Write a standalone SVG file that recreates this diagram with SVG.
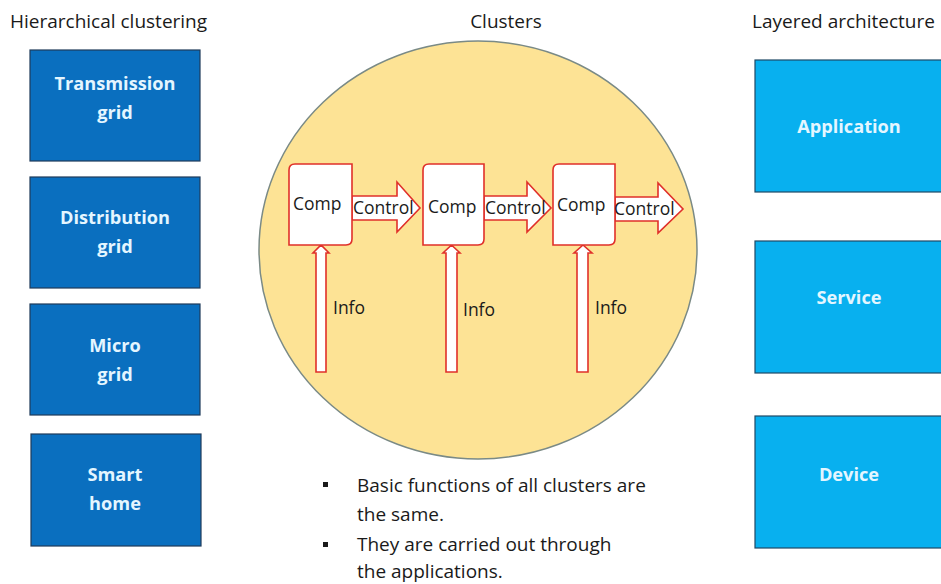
<svg xmlns="http://www.w3.org/2000/svg" width="941" height="584" viewBox="0 0 941 584">
<style>
.title{font-family:"Open Sans","Liberation Sans",sans-serif;font-size:19px;fill:#1a1a1a}
.hbox{fill:#0a6fbf;stroke:#1f3b5a;stroke-width:1.2}
.lbox{fill:#08b0ef;stroke:#1f4a66;stroke-width:1.2}
.btxt{font-family:"Open Sans","Liberation Sans",sans-serif;font-size:18.2px;font-weight:bold;fill:#e4f6ff;text-anchor:middle}
.comp{fill:#ffffff;stroke:#e0302a;stroke-width:1.6}
.arr{fill:#ffffff;stroke:#e0302a;stroke-width:1.6;stroke-linejoin:miter}
.ctxt{font-family:"Open Sans","Liberation Sans",sans-serif;font-size:17.5px;fill:#1a1a1a}
.body{font-family:"Open Sans","Liberation Sans",sans-serif;font-size:19px;fill:#1a1a1a}
</style>
<rect width="941" height="584" fill="#ffffff"/>
<text class="title" x="10" y="28">Hierarchical clustering</text>
<text class="title" x="506" y="28" text-anchor="middle">Clusters</text>
<text class="title" x="752" y="28">Layered architecture</text>

<g id="transmission"><rect class="hbox" x="30" y="50" width="170" height="111"/><text class="btxt" x="115" y="90">Transmission</text><text class="btxt" x="115" y="119">grid</text></g>
<g id="distribution"><rect class="hbox" x="30" y="177" width="170" height="111"/><text class="btxt" x="115" y="224">Distribution</text><text class="btxt" x="115" y="253">grid</text></g>
<g id="micro"><rect class="hbox" x="30" y="304" width="170" height="111"/><text class="btxt" x="115" y="352">Micro</text><text class="btxt" x="115" y="381">grid</text></g>
<g id="smarthome"><rect class="hbox" x="31" y="434" width="170" height="112"/><text class="btxt" x="115" y="481">Smart</text><text class="btxt" x="115" y="510">home</text></g>

<g id="application"><rect class="lbox" x="755" y="60" width="200" height="132"/><text class="btxt" x="849" y="133">Application</text></g>
<g id="service"><rect class="lbox" x="755" y="241" width="200" height="132"/><text class="btxt" x="849" y="304">Service</text></g>
<g id="device"><rect class="lbox" x="755" y="416" width="200" height="132"/><text class="btxt" x="849" y="481">Device</text></g>

<g id="cluster"><ellipse cx="478" cy="250" rx="219" ry="209" fill="#fde395" stroke="#7a8a86" stroke-width="1.5"/></g>

<g id="connectors">
<path class="arr" d="M352,196 H397 V182 L420,208 L397,232 V220 H352 Z"/>
<path class="arr" d="M484,196 H527 V182 L551,208 L527,232 V220 H484 Z"/>
<path class="arr" d="M615,197 H658 V183 L683,209 L658,233 V221 H615 Z"/>
<path class="arr" d="M316,372 V253 H313 L321,245 L329,253 H326 V372 Z"/>
<path class="arr" d="M446,372 V253 H443 L451.5,245 L460,253 H457 V372 Z"/>
<path class="arr" d="M577,372 V253 H574 L583,245 L592,253 H588 V372 Z"/>
</g>

<g id="comp1"><path class="comp" d="M295,164 H352 V239 Q352,245 346,245 H289 V170 Q289,164 295,164 Z"/><text class="ctxt" x="293" y="210">Comp</text></g>
<g id="comp2"><path class="comp" d="M429,164 H484 V239 Q484,245 478,245 H423 V170 Q423,164 429,164 Z"/><text class="ctxt" x="428" y="213">Comp</text></g>
<g id="comp3"><path class="comp" d="M559,164 H615 V239 Q615,245 609,245 H553 V170 Q553,164 559,164 Z"/><text class="ctxt" x="557" y="211">Comp</text></g>

<text class="ctxt" x="353" y="214">Control</text>
<text class="ctxt" x="485" y="214">Control</text>
<text class="ctxt" x="614" y="215">Control</text>
<text class="ctxt" x="333" y="314">Info</text>
<text class="ctxt" x="463" y="316">Info</text>
<text class="ctxt" x="595" y="314">Info</text>

<rect x="323" y="482" width="5" height="5" fill="#1a1a1a"/>
<rect x="323" y="542" width="5" height="5" fill="#1a1a1a"/>
<text class="body" x="357" y="492">Basic functions of all clusters are</text>
<text class="body" x="357" y="521">the same.</text>
<text class="body" x="357" y="551">They are carried out through</text>
<text class="body" x="357" y="578">the applications.</text>
</svg>
